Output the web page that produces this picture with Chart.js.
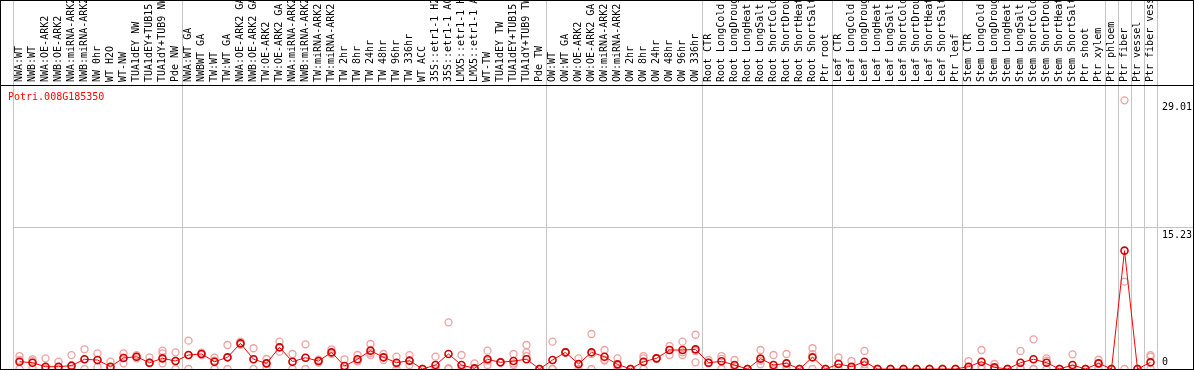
<!DOCTYPE html>
<html>
<head>
<meta charset="utf-8">
<script src="https://cdn.jsdelivr.net/npm/chart.js@4.4.1/dist/chart.umd.min.js"></script>
<style>
  html, body { margin: 0; padding: 0; background: #fff; }
  canvas { display: block; }
</style>
</head>
<body>
<canvas id="exprChart" width="1194" height="370"></canvas>
<script>
const geneName = 'Potri.008G185350';

const sampleLabels = [
    'NWA:WT', 'NWB:WT', 'NWA:OE-ARK2', 'NWB:OE-ARK2', 'NWA:miRNA-ARK2', 'NWB:miRNA-ARK2',
    'NW 0hr', 'WT H2O', 'WT-NW', 'TUA1dEY NW', 'TUA1dEY+TUB15 NW', 'TUA1dY+TUB9 NW', 'Pde NW',
    'NWA:WT GA', 'NWBWT GA', 'TW:WT', 'TW:WT GA', 'NWA:OE-ARK2 GA', 'NWB:OE-ARK2 GA',
    'TW:OE-ARK2', 'TW:OE-ARK2 GA', 'NWA:miRNA-ARK2', 'NWB:miRNA-ARK2', 'TW:miRNA-ARK2', 'TW:miRNA-ARK2',
    'TW 2hr', 'TW 8hr', 'TW 24hr', 'TW 48hr', 'TW 96hr', 'TW 336hr', 'WT ACC',
    '35S::etr1-1 H2O', '35S::etr1-1 ACC', 'LMX5::etr1-1 H2O', 'LMX5::etr1-1 ACC',
    'WT-TW', 'TUA1dEY TW', 'TUA1dEY+TUB15 TW', 'TUA1dY+TUB9 TW', 'Pde TW',
    'OW:WT', 'OW:WT GA', 'OW:OE-ARK2', 'OW:OE-ARK2 GA', 'OW:miRNA-ARK2', 'OW:miRNA-ARK2',
    'OW 2hr', 'OW 8hr', 'OW 24hr', 'OW 48hr', 'OW 96hr', 'OW 336hr',
    'Root CTR', 'Root LongCold', 'Root LongDrought', 'Root LongHeat', 'Root LongSalt',
    'Root ShortCold', 'Root ShortDrought', 'Root ShortHeat', 'Root ShortSalt', 'Ptr root',
    'Leaf CTR', 'Leaf LongCold', 'Leaf LongDrought', 'Leaf LongHeat', 'Leaf LongSalt',
    'Leaf ShortCold', 'Leaf ShortDrought', 'Leaf ShortHeat', 'Leaf ShortSalt', 'Ptr leaf',
    'Stem CTR', 'Stem LongCold', 'Stem LongDrought', 'Stem LongHeat', 'Stem LongSalt',
    'Stem ShortCold', 'Stem ShortDrought', 'Stem ShortHeat', 'Stem ShortSalt', 'Ptr shoot',
    'Ptr xylem', 'Ptr phloem', 'Ptr fiber', 'Ptr vessel', 'Ptr fiber vessel'
];

// grey separator lines sit before these sample indexes
const groupStarts = [0, 13, 41, 53, 63, 73, 84, 85, 86, 87, 88];

const meanValues = [
    0.79, 0.68, 0.25, 0.25, 0.36, 1.05, 0.97, 0.25, 1.19, 1.33, 0.68, 1.15, 0.86,
    1.51, 1.62, 0.79, 1.26, 2.77, 1.05, 0.61, 2.34, 0.79, 1.22, 0.86, 1.8, 0.32, 1.05,
    1.98, 1.26, 0.68, 0.9, 0, 0.43, 1.62, 0.43, 0.07, 1.05, 0.72, 0.86, 1.05, 0,
    0.97, 1.8, 0.54, 1.8, 1.33, 0.5, 0, 0.79, 1.15, 2.05, 2.05, 2.12,
    0.68, 0.83, 0.43, 0, 1.12, 0.43, 0.61, 0, 1.26, 0,
    0.54, 0.25, 0.79, 0, 0, 0, 0, 0, 0, 0,
    0.25, 0.79, 0.18, 0, 0.68, 1.05, 0.68, 0, 0.43, 0, 0.61, 0, 12.78, 0, 0.72
];

const repA = [
    1.4, 1.05, 1.15, 0.79, 1.5, 2.13, 1.69, 0.79, 1.69, 1.5, 1.26, 1.98, 1.8,
    3.06, 1.76, 1.22, 2.59, 2.95, 2.24, 1.08, 2.95, 1.62, 2.66, 1.0, 2.13, 1.05, 1.51,
    2.7, 1.62, 1.33, 1.5, 0, 1.33, 5.04, 1.51, 0.61, 1.98, 0.75, 1.62, 2.59, 0,
    2.95, 1.85, 1.15, 3.78, 2.05, 1.15, 0, 1.4, 1.2, 2.48, 2.95, 3.7,
    0.97, 1.4, 0.97, 0, 2.05, 1.51, 1.62, 0, 2.24, 0,
    1.26, 0.86, 1.95, 0, 0, 0, 0, 0, 0, 0,
    0.86, 2.05, 0.54, 0, 1.95, 3.2, 1.15, 0, 1.58, 0, 1.0, 0, 29.01, 0, 1.5
];

const repB = [
    0.97, 0.85, 0.1, 0.2, 0.3, 1.05, 0.97, 0, 1.2, 1.33, 0.68, 1.69, 0.86,
    1.5, 1.62, 0.9, 1.26, 2.77, 1.05, 0.61, 2.34, 0.79, 1.2, 0.86, 1.69, 0, 0.9,
    1.73, 1.26, 0.5, 0.9, 0, 0, 0.1, 0, 0, 0.9, 0.72, 0.6, 1.8, 0,
    0, 1.8, 0.43, 1.6, 1.0, 0.35, 0, 1.15, 1.15, 2.05, 1.8, 1.94,
    0.68, 1.1, 0.3, 0, 0.9, 0, 0.3, 0, 1.6, 0,
    0.61, 0, 0.5, 0, 0, 0, 0, 0, 0, 0,
    0, 0.3, 0, 0, 0.1, 0, 0.9, 0, 0, 0, 0.6, 0, 9.43, 0, 1.33
];

const repC = [
    0, 0.15, 0, 0, 0, 0, 0.2, 0, 0.61, 1.15, 0.61, 0.61, 0,
    0, 1.5, 0, 0, 2.6, 0, 0.2, 1.87, 0, 0, 0.7, 1.6, 0, 0.79,
    1.51, 0.97, 0, 0.43, 0, 0, 0, 0, 0, 0.43, 0.7, 0.43, 1.4, 0,
    0, 1.75, 0, 0, 0.9, 0, 0, 0, 1.1, 1.51, 1.51, 0.72,
    0.61, 0, 0, 0, 0.5, 0, 0, 0, 0, 0,
    0.1, 0, 0, 0, 0, 0, 0, 0, 0, 0,
    0, 0, 0, 0, 0, 0, 0, 0, 0, 0, 0.2, 0, 0, 0, 0
];

const yTickValues = [0, 15.23, 29.01];
const yTickLabels = ['0', '15.23', '29.01'];
const yMax = 30.67;

const xAxisHeight = 85;
const yAxisWidth = 37;
const monoFont = '"DejaVu Sans Mono", "Liberation Mono", monospace';

const framePlugin = {
    id: 'frame',
    afterDraw(chart) {
        const { ctx, chartArea, width } = chart;
        const yScale = chart.scales.y;
        ctx.save();
        ctx.strokeStyle = '#000';
        ctx.lineWidth = 1;
        ctx.strokeRect(0.5, 0.5, width - 1, chartArea.bottom);
        ctx.beginPath();
        ctx.moveTo(0, chartArea.top + 0.5);
        ctx.lineTo(width, chartArea.top + 0.5);
        ctx.stroke();

        ctx.font = '10px ' + monoFont;
        ctx.textBaseline = 'middle';
        ctx.textAlign = 'left';
        ctx.fillStyle = '#000';
        yTickValues.forEach((v, i) => {
            const y = Math.min(yScale.getPixelForValue(v) + 7, chartArea.bottom - 7);
            ctx.fillText(yTickLabels[i], chartArea.right + 5, y);
        });

        ctx.fillStyle = '#ff0000';
        ctx.fillText(geneName, 8, chartArea.top + 12);
        ctx.restore();
    }
};

function replicateSet(values) {
    return {
        data: values,
        showLine: false,
        pointRadius: 3.5,
        pointBorderWidth: 1.3,
        pointBorderColor: '#f0a0a0',
        pointBackgroundColor: 'rgba(0,0,0,0)'
    };
}

new Chart(document.getElementById('exprChart'), {
    type: 'line',
    data: {
        labels: sampleLabels,
        datasets: [
            {
                label: 'mean',
                data: meanValues,
                borderColor: '#ff0000',
                borderWidth: 1,
                tension: 0,
                pointRadius: 3.5,
                pointBorderWidth: 1.6,
                pointBorderColor: '#d00000',
                pointBackgroundColor: 'rgba(0,0,0,0)'
            },
            replicateSet(repA),
            replicateSet(repB),
            replicateSet(repC)
        ]
    },
    options: {
        responsive: false,
        animation: false,
        devicePixelRatio: 1,
        events: [],
        layout: { autoPadding: false, padding: { left: 13, right: 0, top: 0, bottom: 1 } },
        plugins: {
            legend: { display: false },
            tooltip: { enabled: false }
        },
        scales: {
            x: {
                position: 'top',
                offset: true,
                grid: {
                    offset: true,
                    drawTicks: true,
                    tickLength: xAxisHeight,
                    lineWidth: 1,
                    color: ctx => (ctx.index === undefined || groupStarts.includes(ctx.index)) ? '#c4c4c4' : 'rgba(0,0,0,0)'
                },
                border: { display: false },
                ticks: {
                    autoSkip: false,
                    minRotation: 90,
                    maxRotation: 90,
                    padding: 3 - xAxisHeight,
                    labelOffset: 12,
                    color: '#000',
                    font: { family: monoFont, size: 10 }
                },
                afterFit: scale => { scale.height = xAxisHeight; }
            },
            y: {
                position: 'right',
                min: 0,
                max: yMax,
                afterBuildTicks: scale => { scale.ticks = yTickValues.map(v => ({ value: v })); },
                grid: {
                    drawTicks: true,
                    tickLength: yAxisWidth,
                    color: ctx => (ctx.tick && ctx.tick.value === yTickValues[1]) ? '#c4c4c4' : 'rgba(0,0,0,0)'
                },
                border: { display: false },
                ticks: { display: false },
                afterFit: scale => { scale.width = yAxisWidth; }
            }
        }
    },
    plugins: [framePlugin]
});
</script>
</body>
</html>
